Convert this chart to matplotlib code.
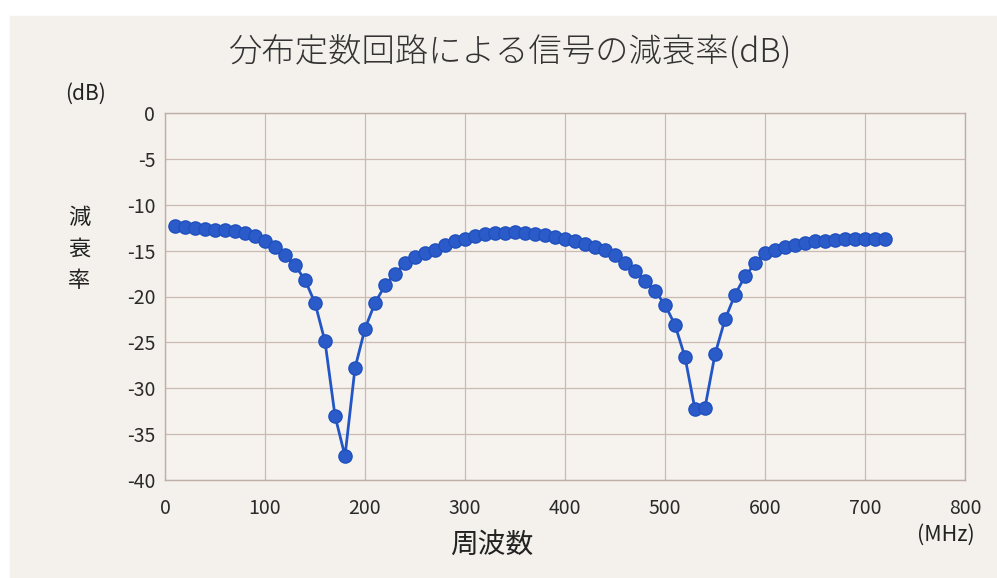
import numpy as np
import matplotlib.pyplot as plt
from matplotlib.patches import Rectangle

plt.rcParams['font.family'] = ['Noto Sans CJK JP', 'DejaVu Sans']
plt.rcParams['axes.unicode_minus'] = False

# 周波数 (MHz) と 減衰率 (dB)
freq = list(range(10, 730, 10))
atten = [
    # 10 - 100
    -12.3, -12.4, -12.5, -12.6, -12.7, -12.75, -12.9, -13.1, -13.4, -13.9,
    # 110 - 200
    -14.6, -15.5, -16.6, -18.2, -20.7, -24.9, -33.0, -37.4, -27.8, -23.5,
    # 210 - 300
    -20.7, -18.8, -17.5, -16.4, -15.7, -15.3, -14.9, -14.4, -14.0, -13.7,
    # 310 - 400
    -13.4, -13.2, -13.1, -13.05, -13.0, -13.05, -13.15, -13.3, -13.5, -13.75,
    # 410 - 500
    -14.0, -14.3, -14.6, -14.95, -15.5, -16.3, -17.2, -18.3, -19.4, -20.9,
    # 510 - 600
    -23.1, -26.6, -32.3, -32.1, -26.3, -22.5, -19.8, -17.8, -16.4, -15.3,
    # 610 - 720
    -14.9, -14.65, -14.4, -14.15, -14.0, -13.9, -13.85, -13.75, -13.7, -13.7,
    -13.7, -13.7,
]
xticks = np.arange(0, 900, 100)
yticks = np.arange(-40, 5, 5)

fig = plt.figure(figsize=(9.97, 5.78), dpi=100)
fig.patch.set_facecolor('white')
# paper area behind everything
paper = Rectangle((10 / 997, 0), 1, 1 - 16 / 578, transform=fig.transFigure,
                  color='#f4f1ec', zorder=-10)
fig.add_artist(paper)

ax = fig.add_axes([165 / 997, 1 - 480 / 578, 800 / 997, 367 / 578])
ax.set_facecolor('#f6f3ef')

ax.plot(freq, atten, color='#2356c4', lw=2, marker='o', ms=9.5,
        markerfacecolor='#2a5bc8', markeredgecolor='#2050bd', zorder=3)

ax.set_xlim(0, 800)
ax.set_ylim(-40, 0)
ax.set_xticks(xticks)
ax.set_yticks(yticks)
ax.grid(True, color='#cbbab2', lw=0.9)
ax.tick_params(axis='x', length=0, labelsize=14, colors='#2a2a2a', pad=13)
ax.tick_params(axis='y', length=0, labelsize=14, colors='#2a2a2a', pad=7)
for s in ax.spines.values():
    s.set_color('#bdaea7')
    s.set_linewidth(1)

fig.text(510 / 997, 1 - 52 / 578, '分布定数回路による信号の減衰率(dB)',
         ha='center', va='center', fontsize=24, fontweight='light',
         color='#333333')
fig.text(85 / 997, 1 - 94 / 578, '(dB)', ha='center', va='center',
         fontsize=15, color='#222222')
fig.text(79 / 997, 1 - 249 / 578, '減\n衰\n率', ha='center', va='center',
         fontsize=16, color='#222222', linespacing=1.45)
fig.text(492 / 997, 1 - 545 / 578, '周波数', ha='center', va='center',
         fontsize=20, color='#222222')
fig.text(946 / 997, 1 - 535 / 578, '(MHz)', ha='center', va='center',
         fontsize=15.5, color='#222222')

fig.savefig('out.png', dpi=100, facecolor=fig.get_facecolor())
